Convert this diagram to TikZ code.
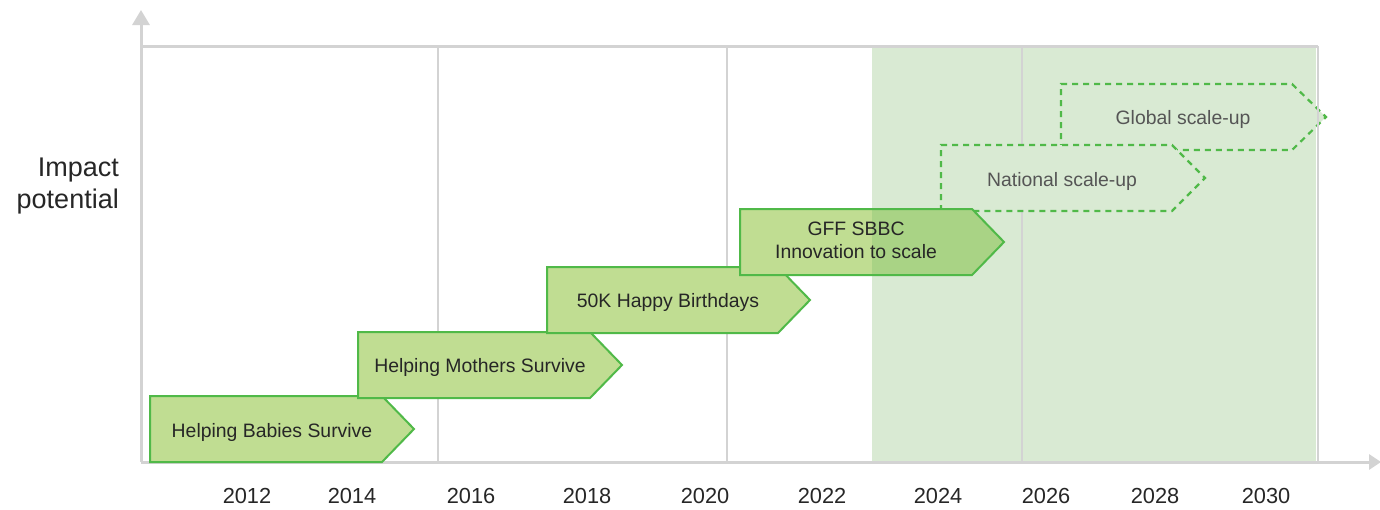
\documentclass[tikz,border=0pt]{standalone}
\usepackage{fontspec}
\setmainfont{Liberation Sans}
\usetikzlibrary{arrows.meta}
\definecolor{axisgray}{RGB}{211,211,211}
\definecolor{shadegreen}{RGB}{217,234,211}
\definecolor{arrowfill}{RGB}{192,221,146}
\definecolor{arrowfilldark}{RGB}{169,211,133}
\definecolor{arrowline}{RGB}{80,185,72}
\definecolor{txt}{RGB}{38,38,38}
\definecolor{dtxt}{RGB}{85,85,85}
\begin{document}
\begin{tikzpicture}[x=1pt,y=-1pt,
  axis/.style={draw=axisgray, line width=3pt},
  gridline/.style={draw=axisgray, line width=2.5pt},
  phase/.style={fill=arrowfill, draw=arrowline, line width=2pt, line join=miter},
  future/.style={fill=shadegreen, draw=arrowline, line width=2.2pt, dash pattern=on 6pt off 5pt},
  lbl/.style={font=\fontsize{19.4}{23}\selectfont, text=txt, align=center, anchor=base, inner sep=0pt},
  dlbl/.style={font=\fontsize{19.4}{23}\selectfont, text=dtxt, anchor=base, inner sep=0pt},
  year/.style={font=\fontsize{21.8}{25}\selectfont, text=txt, anchor=base, inner sep=0pt}]
\useasboundingbox (0,0) rectangle (1380,509);

% shaded future region
\fill[shadegreen] (872,46) rectangle (1316,462);

% grid lines
\draw[gridline] (438,46) -- (438,462);
\draw[gridline] (727,46) -- (727,462);
\draw[gridline] (1022,46) -- (1022,462);

% dashed future phases
\draw[future] (1061,150) -- (1061,84) -- (1292,84) -- (1326,117) -- (1292,150) -- cycle;
\draw[future] (941,211) -- (941,145) -- (1172,145) -- (1205,178) -- (1172,211) -- cycle;

\draw[gridline] (1318,46) -- (1318,462);

% axes
\coordinate (origin) at (141,462);
\coordinate (ytip) at (141,10);
\coordinate (xtip) at (1381,462);
\draw[axis] (141,46) -- (1318,46);
\draw[axis, -{Triangle[width=17pt,length=15pt]}] (origin) -- (ytip);
\draw[axis, -{Triangle[width=15pt,length=12pt]}] (origin) -- (xtip);

% solid phases
\draw[phase] (150,396) -- (382,396) -- (414,429) -- (382,462) -- (150,462) -- cycle;
\draw[phase] (358,332) -- (590,332) -- (622,365) -- (590,398) -- (358,398) -- cycle;
\draw[phase] (547,267) -- (778,267) -- (810,300) -- (778,333) -- (547,333) -- cycle;
\fill[arrowfill] (740,209) -- (972,209) -- (1004,242) -- (972,275) -- (740,275) -- cycle;
\begin{scope}
  \clip (872,0) rectangle (1380,509);
  \fill[arrowfilldark] (740,209) -- (972,209) -- (1004,242) -- (972,275) -- (740,275) -- cycle;
\end{scope}
\draw[phase, fill=none] (740,209) -- (972,209) -- (1004,242) -- (972,275) -- (740,275) -- cycle;

% labels
\node[lbl] (babies) at (272,437) {Helping Babies Survive};
\node[lbl] (mothers) at (480,372) {Helping Mothers Survive};
\node[lbl] (birthdays) at (668,307) {50K Happy Birthdays};
\node[lbl] (gff) at (856,258) {GFF SBBC\\Innovation to scale};
\node[dlbl] (global) at (1183,124) {Global scale-up};
\node[dlbl] (national) at (1062,186) {National scale-up};

\node[font=\fontsize{27}{32}\selectfont, text=txt, align=right, anchor=base east, inner sep=0pt] (impact) at (119,208) {Impact\\potential};

\node[year] (y2012) at (247,503) {2012};
\node[year] (y2014) at (352,503) {2014};
\node[year] (y2016) at (471,503) {2016};
\node[year] (y2018) at (587,503) {2018};
\node[year] (y2020) at (705,503) {2020};
\node[year] (y2022) at (822,503) {2022};
\node[year] (y2024) at (938,503) {2024};
\node[year] (y2026) at (1046,503) {2026};
\node[year] (y2028) at (1155,503) {2028};
\node[year] (y2030) at (1266,503) {2030};
\end{tikzpicture}
\end{document}
